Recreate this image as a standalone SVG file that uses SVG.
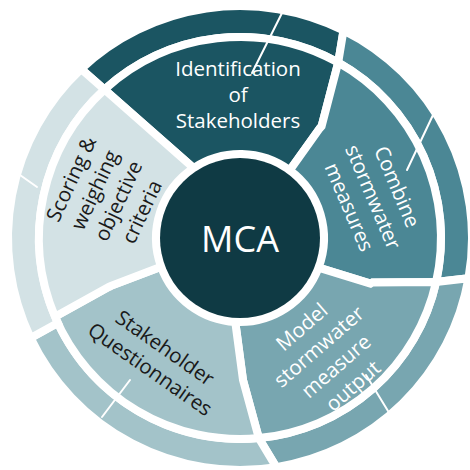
<svg xmlns="http://www.w3.org/2000/svg" width="470" height="470" viewBox="0 0 470 470">
  <style>
    .seg { stroke: #ffffff; stroke-width: 8; stroke-linejoin: miter; }
    .lbl { font-family: "Open Sans", "Liberation Sans", sans-serif; font-size: 20.5px; text-anchor: middle; }
    .light { fill: #ffffff; }
    .ink { fill: #1a1a1a; }
    .seam { stroke: #ffffff; stroke-width: 2; stroke-linecap: round; fill: none; }
  </style>
  <rect width="470" height="470" fill="#ffffff"/>

  <!-- Identification of Stakeholders (top) -->
  <g id="identification">
    <path class="seg" fill="#1b5562" d="M104.5,89.55 A201,201 0 0 1 338.2,62.6 L343.5,30.4 A232,232 0 0 0 81.1,69 Z"/>
    <path class="seg" fill="#1b5562" d="M193.6,168 L104.5,89.55 A201,201 0 0 1 338.2,62.6 L321.6,126.2 L319.8,128.2 L289.7,170.3 A84,84 0 0 0 193.6,168 Z"/>
    <text class="lbl light"><tspan x="238" y="76">Identification</tspan><tspan x="238" y="102">of</tspan><tspan x="238" y="128">Stakeholders</tspan></text>
  </g>

  <!-- Combine stormwater measures (right) -->
  <g id="combine">
    <path class="seg" fill="#4b8795" d="M338.2,62.6 A201,201 0 0 1 436.1,282 L468.5,278.3 A232,232 0 0 0 343.5,30.4 Z"/>
    <path class="seg" fill="#4b8795" d="M289.7,170.3 L319.8,128.2 L321.6,126.2 L338.2,62.6 A201,201 0 0 1 436.1,282 L372.5,282.4 L370.5,283.6 L318.6,267.6 A84,84 0 0 0 289.7,170.3 Z"/>
    <text class="lbl light" transform="translate(373,197) rotate(67)"><tspan x="0" y="-19">Combine</tspan><tspan x="0" y="7">stormwater</tspan><tspan x="0" y="33">measures</tspan></text>
  </g>

  <!-- Model stormwater measure output (lower right) -->
  <g id="model">
    <path class="seg" fill="#78a6b0" d="M436.1,282 A201,201 0 0 1 258.85,438.1 L276.3,467.1 A232,232 0 0 0 468.5,278.3 Z"/>
    <path class="seg" fill="#78a6b0" d="M318.6,267.6 L370.5,283.6 L372.5,282.4 L436.1,282 A201,201 0 0 1 258.85,438.1 L243,380 L235.25,321.9 A84,84 0 0 0 318.6,267.6 Z"/>
    <text class="lbl light" transform="translate(327.5,356.5) rotate(-41)"><tspan x="0" y="-32">Model</tspan><tspan x="0" y="-6">stormwater</tspan><tspan x="0" y="20">measure</tspan><tspan x="0" y="46">output</tspan></text>
  </g>

  <!-- Stakeholder Questionnaires (lower left) -->
  <g id="questionnaires">
    <path class="seg" fill="#a3c3c9" d="M258.85,438.1 A201,201 0 0 1 57.8,322.9 L30.6,337.9 A232,232 0 0 0 276.3,467.1 Z"/>
    <path class="seg" fill="#a3c3c9" d="M235.25,321.9 L243,380 L258.85,438.1 A201,201 0 0 1 55,316.7 L109,286.8 L111,285.8 L161.1,266.8 A84,84 0 0 0 235.25,321.9 Z"/>
    <text class="lbl ink" transform="translate(157.5,358.7) rotate(35)"><tspan x="0" y="-6">Stakeholder</tspan><tspan x="0" y="20">Questionnaires</tspan></text>
  </g>

  <!-- Scoring & weighing objective criteria (left) -->
  <g id="scoring">
    <path class="seg" fill="#d3e2e5" d="M57.8,322.9 A201,201 0 0 1 104.5,89.55 L81.1,69 A232,232 0 0 0 30.6,337.9 Z"/>
    <path class="seg" fill="#d3e2e5" d="M161.1,266.8 L111,285.8 L109,286.8 L55,316.7 A201,201 0 0 1 104.5,89.55 L193.6,168 A84,84 0 0 0 161.1,266.8 Z"/>
    <text class="lbl ink" transform="translate(106.6,195.5) rotate(-65)"><tspan x="0" y="-32">Scoring &amp;</tspan><tspan x="0" y="-6">weighing</tspan><tspan x="0" y="20">objective</tspan><tspan x="0" y="46">criteria</tspan></text>
  </g>

  <!-- fine seams cutting across the bands -->
  <g id="seams">
    <line class="seam" x1="284" y1="9" x2="252" y2="73"/>
    <line class="seam" x1="433" y1="115" x2="407" y2="170"/>
    <line class="seam" x1="366" y1="375" x2="388" y2="411"/>
    <line class="seam" x1="130" y1="380" x2="102" y2="417"/>
    <line class="seam" x1="20" y1="175" x2="37" y2="187"/>
  </g>

  <!-- hub -->
  <g id="mca">
    <circle cx="240" cy="238" r="80" fill="#0f3a44"/>
    <text x="240" y="252" font-family="'Open Sans', 'Liberation Sans', sans-serif" font-size="36" text-anchor="middle" fill="#ffffff">MCA</text>
  </g>
</svg>
